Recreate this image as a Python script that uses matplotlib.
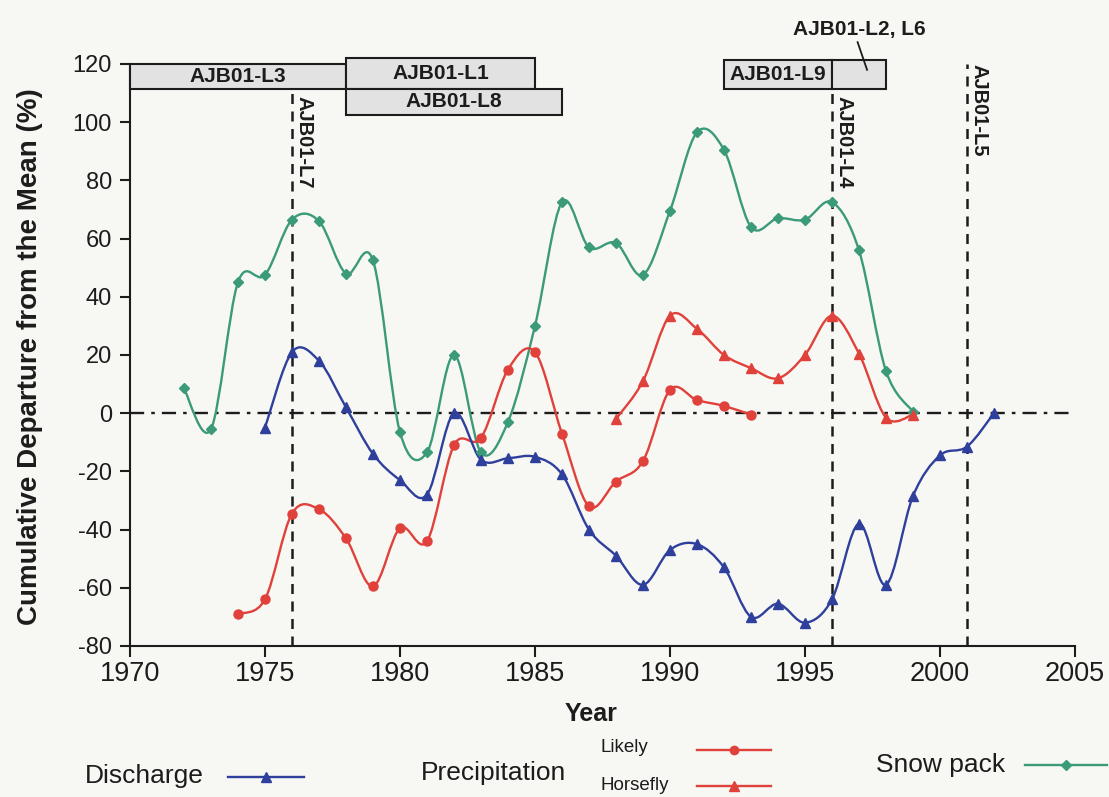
import numpy as np
import matplotlib
matplotlib.use("Agg")
import matplotlib.pyplot as plt
from matplotlib.path import Path
from matplotlib.patches import PathPatch, Rectangle
from matplotlib.lines import Line2D

plt.rcParams['font.family'] = ['Liberation Sans', 'DejaVu Sans']
plt.rcParams['axes.unicode_minus'] = False

# data
discharge_years = list(range(1975, 2003))
discharge = [-5, 21, 18, 2, -14, -23, -28, 0, -16, -15.5, -15, -21, -40, -49,
             -59, -47, -45, -53, -70, -65.5, -72, -64, -38, -59, -28.5, -14.5,
             -11.5, 0]

likely_years = list(range(1974, 1994))
likely = [-69, -64, -34.5, -33, -43, -59.5, -39.5, -44, -11, -8.5, 15, 21, -7,
          -32, -23.5, -16.5, 8, 4.5, 2.5, -0.5]

horsefly_years = list(range(1988, 2000))
horsefly = [-2, 11, 33.5, 29, 20, 15.5, 12, 20, 33.5, 20.5, -1.5, -0.5]

snow_years = list(range(1972, 2000))
snow = [8.5, -5.5, 45, 47.5, 66.5, 66, 48, 52.5, -6.5, -13.5, 20, -13.5, -3,
        30, 72.5, 57, 58.5, 47.5, 69.5, 96.5, 90.5, 64, 67, 66.5, 72.5, 56,
        14.5, 0.5]

# core sample boxes
box_labels = ['AJB01-L3', 'AJB01-L1', 'AJB01-L8', 'AJB01-L9', '']
box_start = [1970, 1978, 1978, 1992, 1996]
box_end = [1978, 1985, 1986, 1996, 1998]
box_low = [111.5, 111.5, 102.5, 111.5, 111.5]
box_high = [120, 122, 111.5, 121.5, 121.5]

# vertical markers
vline_years = [1976, 1996, 2001]
vline_tops = [111.5, 111.5, 120]
vline_labels = ['AJB01-L7', 'AJB01-L4', 'AJB01-L5']
vlabel_tops = [109, 109, 120]

BLUE = '#2f3f9c'
RED = '#e0413b'
GREEN = '#3b9a78'
INK = '#1c1c1c'
BG = '#f7f7f4'


def smooth_path(xs, ys):
    pts = np.column_stack([xs, ys]).astype(float)
    n = len(pts)
    verts = [pts[0]]
    codes = [Path.MOVETO]
    for i in range(n - 1):
        p0 = pts[max(i - 1, 0)]
        p1 = pts[i]
        p2 = pts[i + 1]
        p3 = pts[min(i + 2, n - 1)]
        c1 = p1 + (p2 - p0) / 6.0
        c2 = p2 - (p3 - p1) / 6.0
        verts += [c1, c2, p2]
        codes += [Path.CURVE4] * 3
    return Path(verts, codes)


def draw_series(ax, xs, ys, color, marker, ms):
    ax.add_patch(PathPatch(smooth_path(xs, ys), fill=False, edgecolor=color,
                           lw=1.7, zorder=3))
    ax.plot(xs, ys, ls='none', marker=marker, ms=ms, color=color,
            mec=color, zorder=4)


fig = plt.figure(figsize=(11.09, 7.97), dpi=100, facecolor=BG)
ax = fig.add_axes([0.1172, 0.1895, 0.8521, 0.7302], facecolor=BG)

ax.set_xlim(1970, 2005)
ax.set_ylim(-80, 120)
ax.set_xticks(range(1970, 2006, 5))
ax.set_yticks(range(-80, 121, 20))
for s in ['top', 'right']:
    ax.spines[s].set_visible(False)
for s in ['left', 'bottom']:
    ax.spines[s].set_linewidth(1.5)
    ax.spines[s].set_color(INK)
ax.tick_params(axis='x', direction='out', length=8, width=1.5,
               labelsize=19.5, colors=INK, pad=3)
ax.tick_params(axis='y', direction='out', length=7, width=1.5,
               labelsize=17, colors=INK, pad=6)

# zero line
ax.axhline(0, color=INK, lw=1.7, ls=(0, (6, 3, 1.5, 3)), zorder=2)

draw_series(ax, snow_years, snow, GREEN, 'D', 5.5)
draw_series(ax, likely_years, likely, RED, 'o', 6.5)
draw_series(ax, horsefly_years, horsefly, RED, '^', 7.5)
draw_series(ax, discharge_years, discharge, BLUE, '^', 7.5)

for yr, top, lab, ltop in zip(vline_years, vline_tops, vline_labels,
                              vlabel_tops):
    ax.plot([yr, yr], [-80, top], color=INK, lw=1.8, ls=(0, (4, 3)),
            zorder=2, clip_on=False)
    ax.text(yr + 0.45, ltop, lab, rotation=270, ha='center', va='top',
            fontsize=14.5, fontweight='bold', color=INK)

for lab, x0, x1, lo, hi in zip(box_labels, box_start, box_end, box_low,
                               box_high):
    ax.add_patch(Rectangle((x0, lo), x1 - x0, hi - lo, facecolor='#e2e2e2',
                           edgecolor=INK, lw=1.5, clip_on=False, zorder=5))
    if lab:
        ax.text((x0 + x1) / 2, (lo + hi) / 2, lab, ha='center',
                va='center', fontsize=15, fontweight='bold', color=INK,
                zorder=6)

ax.text(1997, 132, 'AJB01-L2, L6', ha='center', va='center', fontsize=15,
        fontweight='bold', color=INK, clip_on=False)
ax.plot([1996.95, 1997.3], [127.5, 118], color=INK, lw=1.3, clip_on=False,
        zorder=7)

fig.text(0.027, 0.552, 'Cumulative Departure from the Mean (%)', rotation=90,
         ha='center', va='center', fontsize=20, fontweight='bold', color=INK)
fig.text(0.533, 0.104, 'Year', ha='center', va='center', fontsize=18,
         fontweight='bold', color=INK)


# legend drawn in figure pixels
W, H = 1109.0, 797.0


def legend_sample(x0, x1, y, color, marker, ms):
    fy = 1 - y / H
    fig.add_artist(Line2D([x0 / W, x1 / W], [fy, fy], color=color, lw=1.7,
                          transform=fig.transFigure))
    fig.add_artist(Line2D([(x0 + x1) / 2 / W], [fy], color=color,
                          marker=marker, ms=ms, transform=fig.transFigure))


fig.text(85 / W, 1 - 776 / H, 'Discharge', ha='left', va='center',
         fontsize=19, color=INK)
legend_sample(228, 304, 777, BLUE, '^', 7)
fig.text(421 / W, 1 - 773 / H, 'Precipitation', ha='left', va='center',
         fontsize=19, color=INK)
fig.text(601 / W, 1 - 748 / H, 'Likely', ha='left', va='center',
         fontsize=13.5, color=INK)
fig.text(601 / W, 1 - 786 / H, 'Horsefly', ha='left', va='center',
         fontsize=13.5, color=INK)
legend_sample(697, 771, 750, RED, 'o', 6)
legend_sample(697, 771, 786, RED, '^', 7)
fig.text(876 / W, 1 - 765 / H, 'Snow pack', ha='left', va='center',
         fontsize=19, color=INK)
legend_sample(1025, 1107, 765, GREEN, 'D', 5)

fig.savefig('out.png', dpi=100, facecolor=BG)
